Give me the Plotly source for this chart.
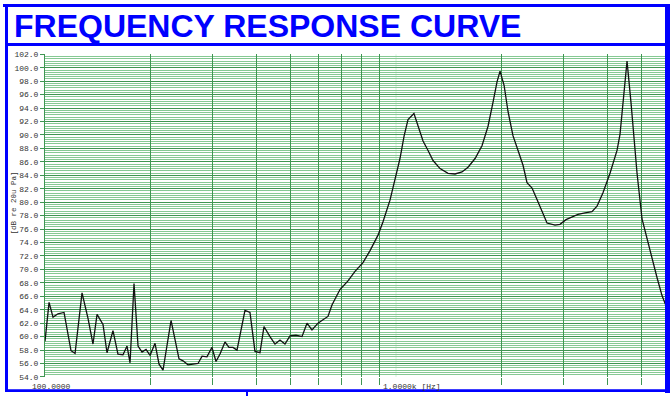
import math
import plotly.graph_objects as go

# ---------------- data ----------------
freq_hz = [100, 102.7, 105.4, 108.9, 113.3, 116.3, 118.6, 121.8, 127.5, 132.6,
           137.0, 140.7, 146.3, 150.2, 156.2, 161.4, 166.8, 171.3, 174.7, 179.3,
           184.1, 189.0, 194.0, 199.2, 205.8, 211.3, 216.9, 228.6, 240.9, 247.3,
           255.5, 264.1, 272.9, 280.2, 289.3, 299.0, 307.0, 315.2, 325.7, 334.3,
           343.2, 352.4, 371.3, 383.7, 396.5, 409.7, 420.6, 437.5, 452.1, 467.2,
           482.7, 498.9, 518.9, 539.7, 557.7, 576.3, 599.5, 619.4, 640.0, 657.0,
           692.5, 729.8, 764.2, 805.4, 843.4, 888.8, 918.3, 961.4, 993.5, 1026.6,
           1054, 1082, 1125, 1155, 1194, 1234, 1275, 1335, 1407, 1473,
           1542, 1604, 1680, 1758, 1829, 1890, 1940, 1979, 2032, 2085,
           2154, 2227, 2301, 2362, 2441, 2522, 2606, 2693, 2838, 2933,
           3050, 3172, 3300, 3455, 3617, 3738, 3888, 4071, 4263, 4347,
           4434, 4552, 4671, 4861, 5023, 5292, 5541, 5726, 5878]
spl_db = [59.3, 65.1, 62.9, 63.4, 63.6, 60.3, 57.9, 57.5, 66.5, 62.7,
          58.9, 63.3, 61.8, 57.6, 60.9, 57.4, 57.3, 58.6, 56.1, 67.9,
          58.6, 57.7, 58.1, 57.2, 59.0, 55.9, 55.0, 62.4, 56.7, 56.4,
          55.8, 55.9, 56.0, 57.1, 57.0, 58.4, 56.3, 57.4, 59.2, 58.4,
          58.4, 58.0, 63.9, 63.6, 57.8, 57.6, 61.5, 60.0, 58.9, 59.5,
          58.9, 60.1, 60.2, 60.0, 62.0, 61.0, 62.0, 62.5, 63.0, 64.7,
          67.0, 68.3, 69.7, 71.0, 72.8, 75.1, 77.1, 80.3, 83.3, 86.5,
          89.8, 92.3, 93.2, 91.3, 89.1, 87.7, 86.2, 85.0, 84.3, 84.2,
          84.5, 85.2, 86.5, 88.4, 91.3, 94.9, 97.9, 99.5, 97.4, 93.5,
          89.9, 87.7, 85.5, 82.9, 82.1, 80.4, 78.5, 76.9, 76.6, 76.7,
          77.4, 77.8, 78.2, 78.4, 78.6, 79.4, 81.4, 84.3, 87.7, 90.1,
          94.9, 101.0, 94.9, 84.3, 77.5, 72.7, 68.8, 66.1, 64.6]

x_grid_freqs = [200, 300, 400, 500, 600, 700, 800, 900,
                2000, 3000, 4000, 5000, 6000, 7000, 8000, 9000]
x_light_grid_freqs = [1000]
x_label_freqs = [100, 1000]
x_label_texts = ["100.0000", "1.0000k [Hz]"]
y_range = [54, 102]
y_title = "[dB re 20u Pa]"
title_text = "FREQUENCY RESPONSE CURVE"

# ---------------- geometry (pixels) ----------------
W, H = 670, 401
def px(x):
    return x / W
def py(y):
    return 1 - y / H

x_left_px, x_right_px = 45, 665
y_top_px, y_bot_px = 51.5, 381.5
decade_px = 351.0
log_lo = math.log10(100)
log_hi = log_lo + (x_right_px - x_left_px) / decade_px

BLUE = "#0000ff"
GRID_DARK = "#3f9652"
GRID_MINOR = "#86c994"
GRID_LIGHT = "#d2f2d8"
MONO = "Liberation Mono, DejaVu Sans Mono, monospace"

fig = go.Figure()
fig.add_trace(go.Scatter(x=freq_hz, y=spl_db, mode="lines",
                         line=dict(color="#111111", width=1.3),
                         hoverinfo="skip", showlegend=False))

fig.update_layout(
    width=W, height=H, autosize=False,
    margin=dict(l=0, r=0, t=0, b=0, pad=0),
    paper_bgcolor="white", plot_bgcolor="white",
    showlegend=False,
)
fig.update_xaxes(
    type="log", range=[log_lo, log_hi],
    domain=[px(x_left_px), px(x_right_px)],
    tickmode="array", tickvals=x_grid_freqs, showticklabels=False,
    showgrid=True, gridcolor=GRID_DARK, gridwidth=1,
    ticks="outside", ticklen=7, tickcolor=GRID_DARK, tickwidth=1,
    zeroline=False, showline=False,
)
fig.update_yaxes(
    range=y_range, domain=[py(y_bot_px), py(y_top_px)],
    tick0=54, dtick=2, tickformat=".1f",
    tickfont=dict(family=MONO, size=8, color="#333333"),
    ticks="outside", ticklen=4, tickcolor=GRID_DARK, tickwidth=1,
    showgrid=True, gridcolor=GRID_DARK, gridwidth=1,
    minor=dict(tick0=54, dtick=1/3, showgrid=True, gridcolor=GRID_MINOR, gridwidth=1),
    showline=True, linecolor=GRID_DARK, linewidth=1,
    zeroline=False,
)

shapes = []
for f in x_light_grid_freqs:
    shapes.append(dict(type="line", xref="x", yref="paper",
                       x0=f, x1=f, y0=py(y_bot_px), y1=py(y_top_px),
                       line=dict(color=GRID_LIGHT, width=1), layer="below"))

def blue_rect(x0, y0, x1, y1):
    return dict(type="rect", xref="paper", yref="paper",
                x0=px(x0), x1=px(x1), y0=py(y1), y1=py(y0),
                fillcolor=BLUE, line=dict(width=0), layer="above")

shapes += [
    blue_rect(3, 0, 668, 3),      # top
    blue_rect(5, 0, 8, 397),      # left
    blue_rect(5, 40, 668, 43),    # title separator
    blue_rect(665, 0, 670, 398),  # right
    blue_rect(5, 394, 670, 397),  # bottom
    blue_rect(246, 397, 248, 401),
]
fig.update_layout(shapes=shapes)

annotations = [
    dict(text=title_text, xref="paper", yref="paper",
         x=px(12), y=py(22), xanchor="left", yanchor="middle",
         showarrow=False,
         font=dict(family="Liberation Sans, Arial", size=32, color=BLUE, weight="bold")),
    dict(text=y_title, xref="paper", yref="paper", x=px(14), y=py(204),
         xanchor="center", yanchor="middle", textangle=-90, showarrow=False,
         font=dict(family=MONO, size=7.5, color="#333333")),
]
for f, t in zip(x_label_freqs, x_label_texts):
    annotations.append(dict(text=t, xref="x", yref="paper", x=math.log10(f), y=py(391),
                            xanchor="left", yanchor="middle", xshift=-15, showarrow=False,
                            font=dict(family=MONO, size=8, color="#333333")))
fig.update_layout(annotations=annotations)

post_js = (
    "document.documentElement.style.margin='0';"
    "document.body.style.margin='0';document.body.style.padding='0';"
)
fig.write_html("out.html", config={"displayModeBar": False}, post_script=post_js)
